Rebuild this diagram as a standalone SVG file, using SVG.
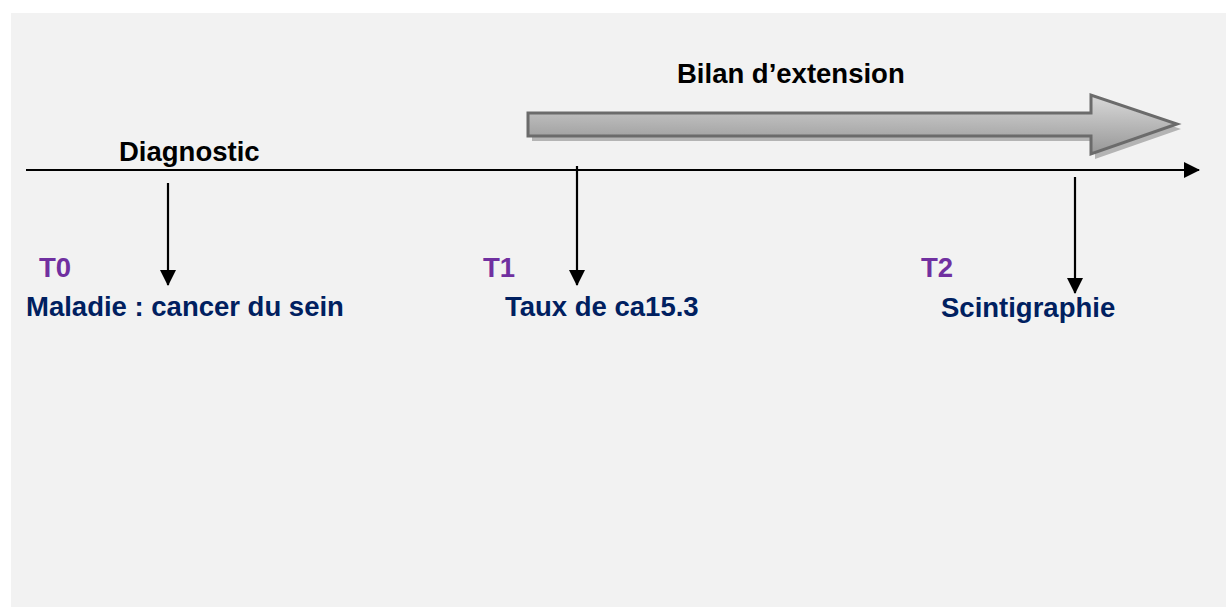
<svg xmlns="http://www.w3.org/2000/svg" width="1226" height="607" viewBox="0 0 1226 607">
<defs>
<style>
.t{font-family:"Liberation Sans",Arial,sans-serif;font-weight:bold;font-size:27.5px}
.blk{fill:#000}
.pur{fill:#7030A0}
.nav{fill:#002060}
.ln{stroke:#000;stroke-width:2.2;fill:none}
</style>
<marker id="ahBig" viewBox="0 0 16 16" refX="15" refY="8" markerWidth="16" markerHeight="16" markerUnits="userSpaceOnUse" orient="auto">
<path d="M0,0 L16,8 L0,16 z" fill="#000"/>
</marker>
<linearGradient id="g" x1="0" y1="1" x2="0.15" y2="0">
<stop offset="0" stop-color="#8e8e8e"/>
<stop offset="1" stop-color="#d2d2d2"/>
</linearGradient>
</defs>
<rect x="0" y="0" width="1226" height="607" fill="#ffffff"/>
<rect x="11" y="13" width="1215" height="594" fill="#f2f2f2"/>

<g id="bilan">
<path d="M532,118 L1095,118 L1095,100 L1181,129 L1095,159 L1095,141 L532,141 z" fill="#b4b4b4"/>
<path d="M528,113 L1091,113 L1091,95 L1177,124 L1091,154 L1091,136 L528,136 z" fill="url(#g)" stroke="#6b6b6b" stroke-width="3" stroke-linejoin="miter"/>
<text class="t blk" x="677" y="83">Bilan d’extension</text>
</g>

<g id="connectors">
<line class="ln" x1="26" y1="170" x2="1199" y2="170" marker-end="url(#ahBig)"/>
<line class="ln" x1="168" y1="183" x2="168" y2="285" marker-end="url(#ahBig)"/>
<line class="ln" x1="577" y1="166" x2="577" y2="285" marker-end="url(#ahBig)"/>
<line class="ln" x1="1075" y1="177" x2="1075" y2="293" marker-end="url(#ahBig)"/>
</g>

<g id="diagnostic">
<text class="t blk" x="119" y="161">Diagnostic</text>
</g>

<g id="t0">
<text class="t pur" x="39" y="277">T0</text>
<text class="t nav" x="26" y="316">Maladie : cancer du sein</text>
</g>

<g id="t1">
<text class="t pur" x="483" y="277">T1</text>
<text class="t nav" x="505" y="316">Taux de ca15.3</text>
</g>

<g id="t2">
<text class="t pur" x="921" y="277">T2</text>
<text class="t nav" x="941" y="317">Scintigraphie</text>
</g>
</svg>
